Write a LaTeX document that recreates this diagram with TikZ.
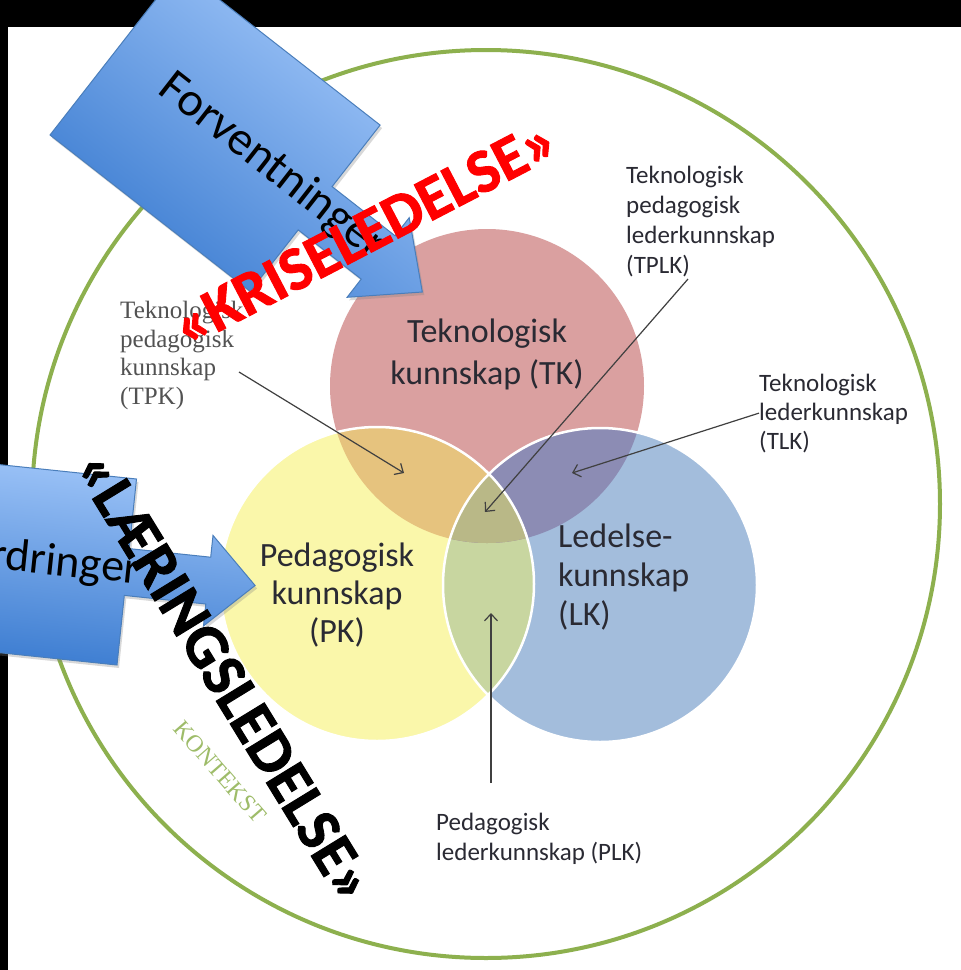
\documentclass[tikz,border=0pt]{standalone}
\usepackage{fontspec}
\setmainfont{Carlito}
\newfontfamily\timesfont{Liberation Serif}
\newfontfamily\stempelfont[BoldFeatures={FakeBold=1.5}]{Carlito}
\usetikzlibrary{arrows.meta,shadows}

\definecolor{tkred}{HTML}{DAA0A0}
\definecolor{pkyellow}{HTML}{FAF7AA}
\definecolor{lkblue}{HTML}{A3BDDC}
\definecolor{tpkmix}{HTML}{E6C37E}
\definecolor{tlkmix}{HTML}{8C8CB4}
\definecolor{plkmix}{HTML}{C8D6A0}
\definecolor{tplkmix}{HTML}{B9B887}
\definecolor{kontekstgreen}{HTML}{8DB04E}
\definecolor{pillight}{HTML}{A3C8FA}
\definecolor{pildark}{HTML}{3A7BD0}
\definecolor{pilrand}{HTML}{4A7EBB}
\definecolor{labelgray}{HTML}{2A2A33}

\tikzset{
  sirkeltekst/.style={font=\fontsize{34}{40}\selectfont, text=labelgray, inner sep=0pt},
  smaatekst/.style={font=\fontsize{25}{30}\selectfont, text=labelgray, inner sep=0pt, align=left, anchor=north west},
  pil/.style={draw=black!75, line width=1.2pt, -{Straight Barb[length=7pt,width=13pt]}},
  blokkpil/.style={draw=pilrand, line width=1pt, top color=pillight, bottom color=pildark,
    drop shadow={opacity=0.3, shadow xshift=2pt, shadow yshift=-3pt}},
  stempel/.style={font=\stempelfont\bfseries\fontsize{62}{68}\selectfont, inner sep=0pt},
}

\begin{document}
\begin{tikzpicture}[x=1pt, y=-1pt]
    % bakgrunn
    \useasboundingbox (0,0) rectangle (961,970);
    \fill[white] (0,0) rectangle (961,970);
    \fill[black] (0,0) rectangle (961,27);
    \fill[black] (0,0) rectangle (8,970);

    % tre sirkler
    \coordinate (tk) at (487,386);
    \coordinate (pk) at (377,584);
    \coordinate (lk) at (600,585);
    \def\rad{157}
    \fill[tkred] (tk) circle (\rad);
    \fill[pkyellow] (pk) circle (\rad);
    \fill[lkblue] (lk) circle (\rad);
    \begin{scope}
        \clip (pk) circle (\rad);
        \fill[plkmix] (lk) circle (\rad);
    \end{scope}
    \begin{scope}
        \clip (tk) circle (\rad);
        \fill[tpkmix] (pk) circle (\rad);
        \fill[tlkmix] (lk) circle (\rad);
        \clip (pk) circle (\rad);
        \fill[tplkmix] (lk) circle (\rad);
    \end{scope}
    \draw[white, line width=2.5pt] (pk) circle (\rad) (lk) circle (\rad);

    % kontekst
    \draw[kontekstgreen, line width=4pt] (486,504) circle (454);
    \node[font=\timesfont\fontsize{24}{26}\selectfont, text=kontekstgreen!85, rotate=-49] (kontekst) at (220,772) {KONTEKST};

    % tekst i sirklene
    \node[sirkeltekst, font=\fontsize{34}{42}\selectfont, align=center, anchor=north] (tktekst) at (487,319) {Teknologisk\\kunnskap (TK)};
    \node[sirkeltekst, font=\fontsize{34}{38}\selectfont, align=center, anchor=north] (pktekst) at (337,543) {Pedagogisk\\kunnskap\\(PK)};
    \node[sirkeltekst, font=\fontsize{34}{39}\selectfont, align=left, anchor=north west] (lktekst) at (558,524) {Ledelse-\\kunnskap\\(LK)};

    % merkelapper
    \node[smaatekst] (tplk) at (626,165.5) {Teknologisk\\pedagogisk\\lederkunnskap\\(TPLK)};
    \node[smaatekst, font=\fontsize{25}{29}\selectfont] (tlk) at (759,373.5) {Teknologisk\\lederkunnskap\\(TLK)};
    \node[smaatekst] (plk) at (436,812.5) {Pedagogisk\\lederkunnskap (PLK)};
    \node[smaatekst, font=\timesfont\fontsize{25}{28.5}\selectfont, text=black!68] (tpk) at (120,301) {Teknologisk\\pedagogisk\\kunnskap\\(TPK)};

    \coordinate (tpk-fra) at (239,372);
    \coordinate (tpk-til) at (404,473);
    \coordinate (tplk-fra) at (688,279);
    \coordinate (tplk-til) at (485,512);
    \coordinate (tlk-til) at (572,473);
    \coordinate (plk-fra) at (491,783);
    \coordinate (plk-til) at (491,613);
    \draw[pil] (tpk-fra) -- (tpk-til);
    \draw[pil] (tplk-fra) -- (tplk-til);
    \draw[pil] (tlk.west) -- (tlk-til);
    \draw[pil] (plk-fra) -- (plk-til);

    % blokkpiler
    \path[blokkpil, shading angle=-38] (50,135) -- (250.2,291.4) -- (298.2,229.9) -- (361.2,279.1)
        -- (347.1,297.3) -- (422.3,292.0) -- (409.2,217.7) -- (395.1,235.8) -- (332.1,186.6)
        -- (380.1,125.1) -- (179.9,-31.3) -- cycle;
    \node[font=\fontsize{48}{52}\selectfont, rotate=-38] (forventninger) at (272,167) {Forventninger};

    \path[blokkpil, shading angle=-6] (-111.7,641.0) -- (117,665) -- (124.3,595.4) -- (205.8,604.0)
        -- (203.5,625.9) -- (255.1,585.5) -- (213.0,535.4) -- (210.7,557.2) -- (129.2,548.6)
        -- (136.5,479.0) -- (-92.2,455.0) -- cycle;
    \node[font=\fontsize{46}{50}\selectfont, rotate=-6, anchor=base east, inner sep=0pt] (fordringer) at (139,584) {rdringer};

    % stempler
    \node[stempel, text=red, rotate=27.5] (krise) at (365,233) {«KRISELEDELSE»};
    \node[stempel, text=black, rotate=-58.5] (laering) at (225,677) {«LÆRINGSLEDELSE»};
\end{tikzpicture}
\end{document}
